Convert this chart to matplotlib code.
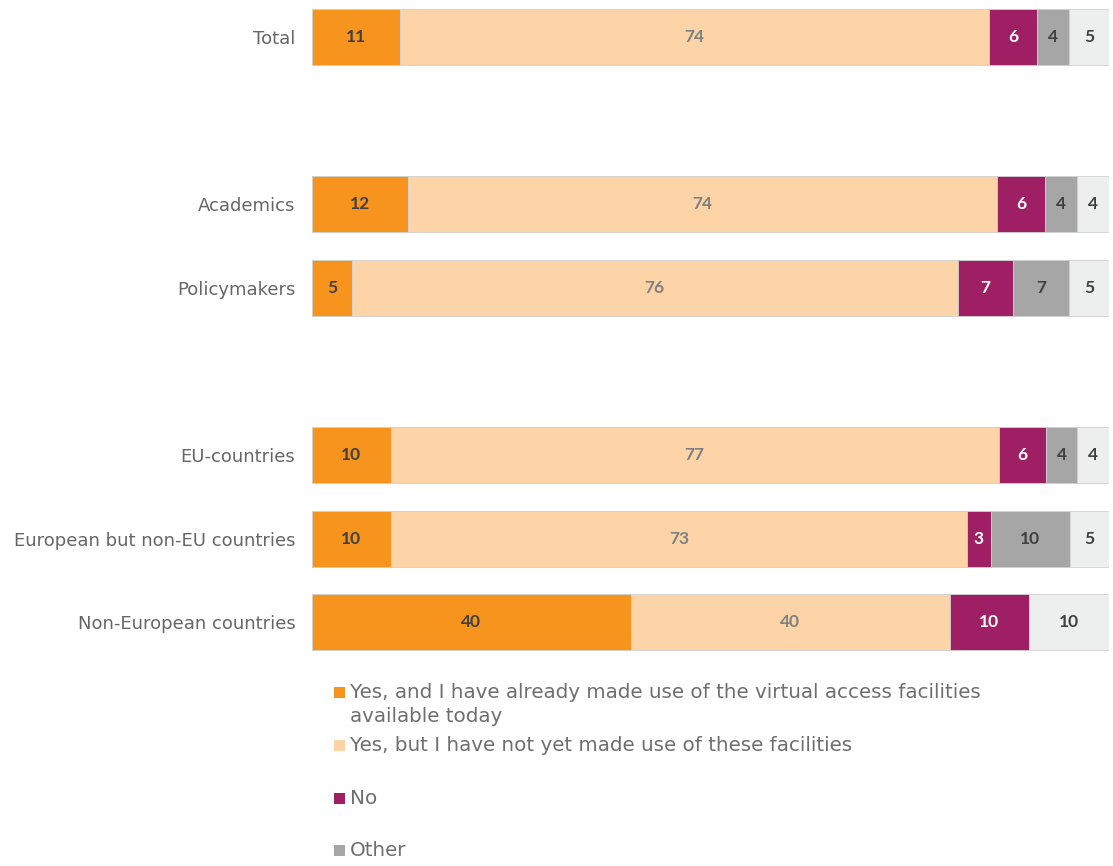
import numpy as np
import matplotlib.pyplot as plt
from matplotlib.patches import Rectangle

plt.rcParams['font.family'] = ['DejaVu Sans']

groups = ["Total", "Academics", "Policymakers", "EU-countries",
          "European but non-EU countries", "Non-European countries"]
slots = [0, 2, 3, 5, 6, 7]

yes_used = [11, 12, 5, 10, 10, 40]
yes_not_yet = [74, 74, 76, 77, 73, 40]
no = [6, 6, 7, 6, 3, 10]
other = [4, 4, 7, 4, 10, 0]
dont_know = [5, 4, 5, 4, 5, 10]

series = [yes_used, yes_not_yet, no, other, dont_know]
legend_labels = [
    "Yes, and I have already made use of the virtual access facilities\navailable today",
    "Yes, but I have not yet made use of these facilities",
    "No",
    "Other",
]
colors = ["#F7941D", "#FCD4A7", "#9E1F63", "#A6A6A7", "#EDEEEE"]
label_colors = ["#404040", "#808080", "white", "#404040", "#404040"]

values = np.array(series, dtype=float)
shares = values / values.sum(axis=0) * 100

fig = plt.figure(figsize=(11.13, 8.66), dpi=100)
ax = fig.add_axes([312 / 1113, 1 - 660 / 866, 797 / 1113, 660 / 866])

left = np.zeros(len(groups))
for i in range(len(series)):
    ax.barh(slots, shares[i], left=left, height=0.67, color=colors[i],
            edgecolor="#D0D0D0", linewidth=0.6)
    for y, l, w, v in zip(slots, left, shares[i], values[i]):
        if v > 0:
            ax.text(l + w / 2, y, f"{int(v)}", ha="center", va="center",
                    fontsize=12.5, fontweight="bold", color=label_colors[i],
                    family="Lato")
    left += shares[i]

ax.set_xlim(0, 100)
ax.set_ylim(7.45, -0.44)
ax.set_yticks(slots)
ax.set_yticklabels(groups, fontsize=13, color="#666666")
ax.tick_params(axis="y", length=0, pad=12)
ax.set_xticks([])
for s in ax.spines.values():
    s.set_visible(False)

# legend drawn by hand to keep the uneven spacing
legend_y = [693, 746, 799, 851]
for c, lab, ypx in zip(colors, legend_labels, legend_y):
    fig.add_artist(Rectangle((334 / 1113, 1 - (ypx + 5) / 866), 11 / 1113, 11 / 866,
                             transform=fig.transFigure, facecolor=c, edgecolor="none"))
    fig.text(350 / 1113, 1 - (ypx - 10) / 866, lab, ha="left", va="top",
             fontsize=14.3, color="#6E6E6E", linespacing=1.35)

fig.savefig("out.png", dpi=100, facecolor="white")
